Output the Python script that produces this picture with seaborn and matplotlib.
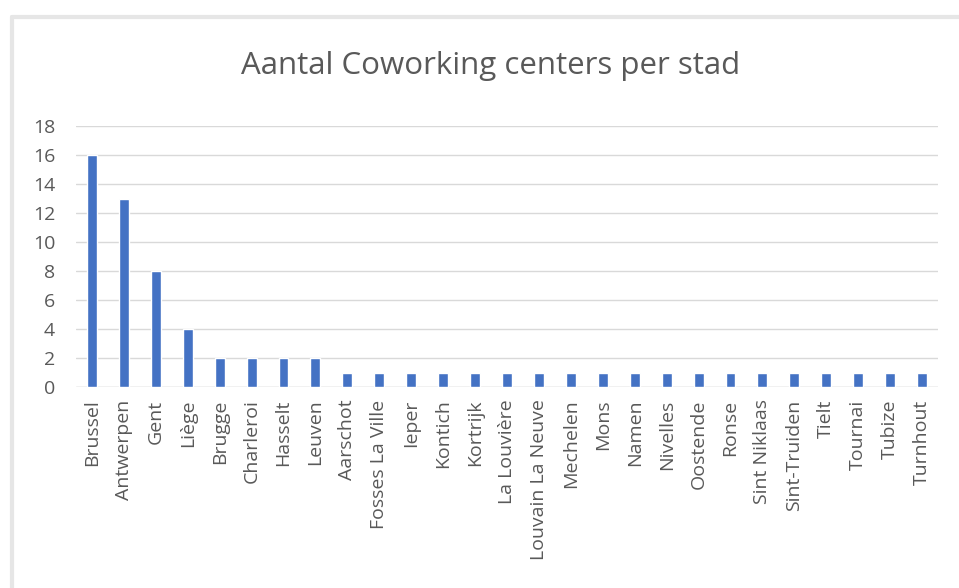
import matplotlib
matplotlib.use("Agg")
import matplotlib.pyplot as plt
from matplotlib.lines import Line2D
import seaborn as sns
import pandas as pd

# Number of coworking centers per city
steden = [
    "Brussel", "Antwerpen", "Gent", "Liège", "Brugge", "Charleroi", "Hasselt",
    "Leuven", "Aarschot", "Fosses La Ville", "Ieper", "Kontich", "Kortrijk",
    "La Louvière", "Louvain La Neuve", "Mechelen", "Mons", "Namen", "Nivelles",
    "Oostende", "Ronse", "Sint Niklaas", "Sint-Truiden", "Tielt", "Tournai",
    "Tubize", "Turnhout",
]
aantallen = [16, 13, 8, 4, 2, 2, 2, 2, 1, 1, 1, 1, 1, 1, 1, 1, 1, 1, 1, 1,
             1, 1, 1, 1, 1, 1, 1]
y_ticks = [0, 2, 4, 6, 8, 10, 12, 14, 16, 18]

df = pd.DataFrame({"stad": steden, "aantal": aantallen})

sns.set_theme(style="white")
plt.rcParams["font.family"] = ["Open Sans", "DejaVu Sans"]

W, H = 959, 588
fig = plt.figure(figsize=(W / 100, H / 100), dpi=100)
fig.patch.set_facecolor("white")

# plot area in pixels: left 76, right 938, top 126, bottom 387
ax = fig.add_axes([76 / W, 1 - 387 / H, (938 - 76) / W, (387 - 126) / H])

sns.barplot(data=df, x="stad", y="aantal", color="#4472C4", saturation=1,
            width=0.31, ax=ax)

ax.set_ylim(0, 18)
ax.set_yticks(y_ticks)
ax.set_xlim(-0.5, len(steden) - 0.5)
ax.yaxis.grid(True, color="#D9D9D9", linewidth=1)
ax.set_axisbelow(True)
for s in ax.spines.values():
    s.set_visible(False)
ax.axhline(0, color="#D9D9D9", linewidth=1, zorder=0)

ax.set_xlabel("")
ax.set_ylabel("")
ax.tick_params(axis="both", length=0, colors="#595959", labelsize=14)
ax.tick_params(axis="y", pad=15)
ax.tick_params(axis="x", pad=9)
for lbl in ax.get_xticklabels():
    lbl.set_rotation(90)
    lbl.set_color("#595959")

fig.text(491 / W, 1 - 74 / H, "Aantal Coworking centers per stad",
         ha="center", va="baseline", fontsize=22.5, color="#595959")

# chart frame
frame_kw = dict(color="#E6E6E6", linewidth=3, transform=fig.transFigure)
fig.add_artist(Line2D([12 / W, 1], [1 - 17 / H, 1 - 17 / H], **frame_kw))
fig.add_artist(Line2D([12 / W, 12 / W], [0, 1 - 17 / H], **frame_kw))

fig.savefig("out.png", dpi=100)
